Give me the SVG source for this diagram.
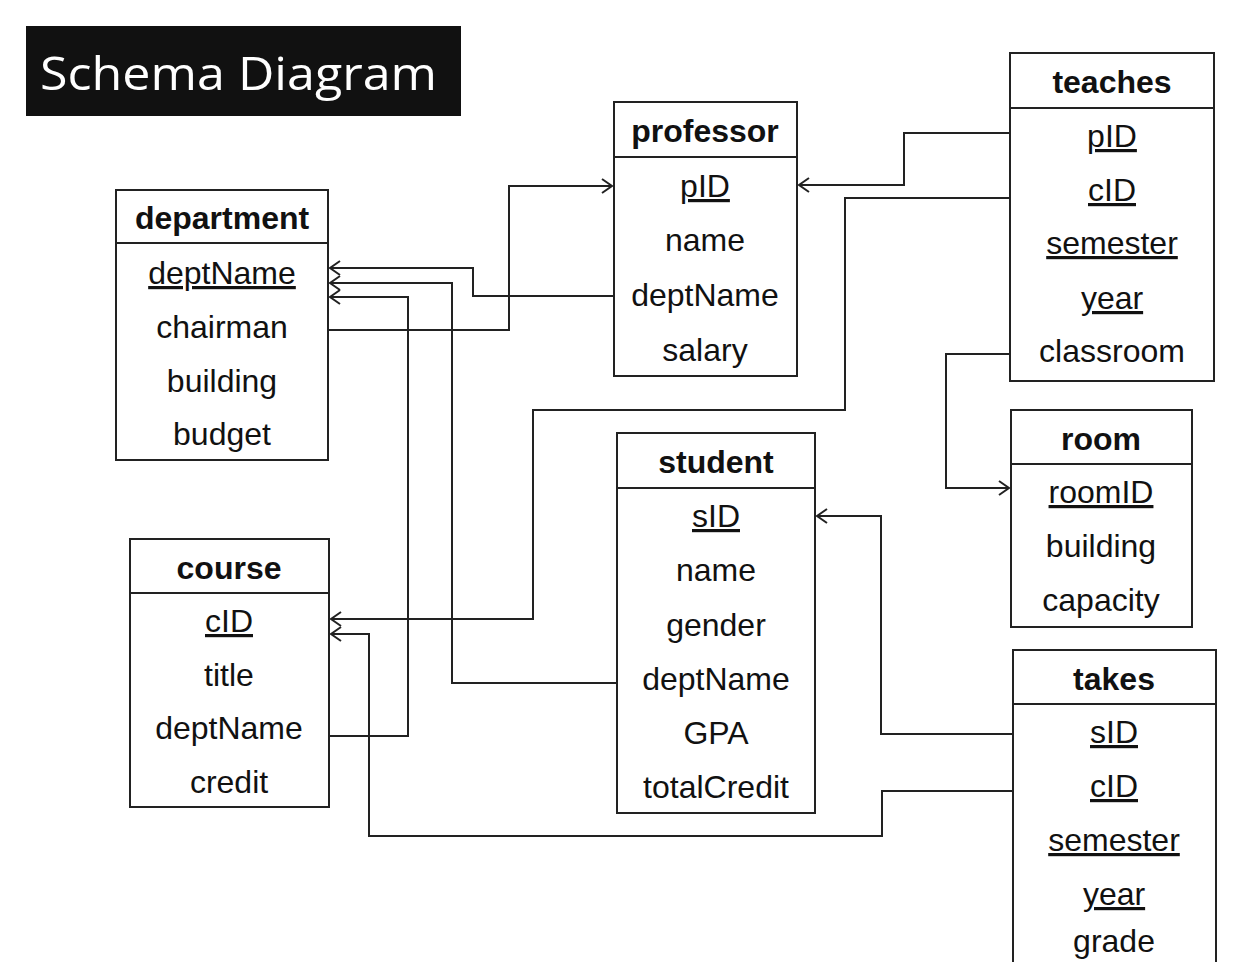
<svg xmlns="http://www.w3.org/2000/svg" width="1242" height="962" viewBox="0 0 1242 962">
<defs>
<style>
.box{fill:#fff;stroke:#222;stroke-width:2}
.hd{font-family:"Liberation Sans",Arial,sans-serif;font-weight:bold;font-size:32px;fill:#111;text-anchor:middle}
.at{font-family:"Liberation Sans",Arial,sans-serif;font-size:32px;fill:#111;text-anchor:middle}
.k{text-decoration:underline}
.c{fill:none;stroke:#222;stroke-width:2;stroke-linejoin:miter}
</style>
<marker id="ar" markerUnits="userSpaceOnUse" markerWidth="14" markerHeight="16" refX="12" refY="8" orient="auto">
<path d="M2,1 L12,8 L2,15" fill="none" stroke="#222" stroke-width="2"/>
</marker>
</defs>
<rect width="1242" height="962" fill="#fff"/>
<g id="title">
<rect x="26" y="26" width="435" height="90" fill="#111"/>
<text x="40" y="90" font-family="'Open Sans','Noto Sans',sans-serif" font-size="46" fill="#fff" textLength="397" lengthAdjust="spacingAndGlyphs">Schema Diagram</text>
</g>
<g id="connectors">
<path class="c" d="M328,330 H509 V186 H612" marker-end="url(#ar)"/>
<path class="c" d="M614,296 H473 V268 H330" marker-end="url(#ar)"/>
<path class="c" d="M617,683 H452 V283 H330" marker-end="url(#ar)"/>
<path class="c" d="M329,736 H408 V297 H330" marker-end="url(#ar)"/>
<path class="c" d="M1010,133 H904 V185 H799" marker-end="url(#ar)"/>
<path class="c" d="M1010,198 H845 V410 H533 V619 H331" marker-end="url(#ar)"/>
<path class="c" d="M1010,354 H946 V488 H1009" marker-end="url(#ar)"/>
<path class="c" d="M1013,734 H881 V516 H817" marker-end="url(#ar)"/>
<path class="c" d="M1013,791 H882 V836 H369 V634 H331" marker-end="url(#ar)"/>
</g>
<g id="department">
<rect class="box" x="116" y="190" width="212" height="270"/>
<line class="box" x1="116" y1="243" x2="328" y2="243"/>
<text class="hd" x="222" y="229">department</text>
<text class="at k" x="222" y="284">deptName</text>
<text class="at" x="222" y="338">chairman</text>
<text class="at" x="222" y="392">building</text>
<text class="at" x="222" y="445">budget</text>
</g>
<g id="professor">
<rect class="box" x="614" y="102" width="183" height="274"/>
<line class="box" x1="614" y1="157" x2="797" y2="157"/>
<text class="hd" x="705" y="142">professor</text>
<text class="at k" x="705" y="197">pID</text>
<text class="at" x="705" y="251">name</text>
<text class="at" x="705" y="306">deptName</text>
<text class="at" x="705" y="361">salary</text>
</g>
<g id="teaches">
<rect class="box" x="1010" y="53" width="204" height="328"/>
<line class="box" x1="1010" y1="108" x2="1214" y2="108"/>
<text class="hd" x="1112" y="93">teaches</text>
<text class="at k" x="1112" y="147">pID</text>
<text class="at k" x="1112" y="201">cID</text>
<text class="at k" x="1112" y="254">semester</text>
<text class="at k" x="1112" y="309">year</text>
<text class="at" x="1112" y="362">classroom</text>
</g>
<g id="room">
<rect class="box" x="1011" y="410" width="181" height="217"/>
<line class="box" x1="1011" y1="464" x2="1192" y2="464"/>
<text class="hd" x="1101" y="450">room</text>
<text class="at k" x="1101" y="503">roomID</text>
<text class="at" x="1101" y="557">building</text>
<text class="at" x="1101" y="611">capacity</text>
</g>
<g id="student">
<rect class="box" x="617" y="433" width="198" height="380"/>
<line class="box" x1="617" y1="488" x2="815" y2="488"/>
<text class="hd" x="716" y="473">student</text>
<text class="at k" x="716" y="527">sID</text>
<text class="at" x="716" y="581">name</text>
<text class="at" x="716" y="636">gender</text>
<text class="at" x="716" y="690">deptName</text>
<text class="at" x="716" y="744">GPA</text>
<text class="at" x="716" y="798">totalCredit</text>
</g>
<g id="course">
<rect class="box" x="130" y="539" width="199" height="268"/>
<line class="box" x1="130" y1="593" x2="329" y2="593"/>
<text class="hd" x="229" y="579">course</text>
<text class="at k" x="229" y="632">cID</text>
<text class="at" x="229" y="686">title</text>
<text class="at" x="229" y="739">deptName</text>
<text class="at" x="229" y="793">credit</text>
</g>
<g id="takes">
<rect class="box" x="1013" y="650" width="203" height="330"/>
<line class="box" x1="1013" y1="704" x2="1216" y2="704"/>
<text class="hd" x="1114" y="690">takes</text>
<text class="at k" x="1114" y="743">sID</text>
<text class="at k" x="1114" y="797">cID</text>
<text class="at k" x="1114" y="851">semester</text>
<text class="at k" x="1114" y="905">year</text>
<text class="at" x="1114" y="952">grade</text>
</g>
</svg>
